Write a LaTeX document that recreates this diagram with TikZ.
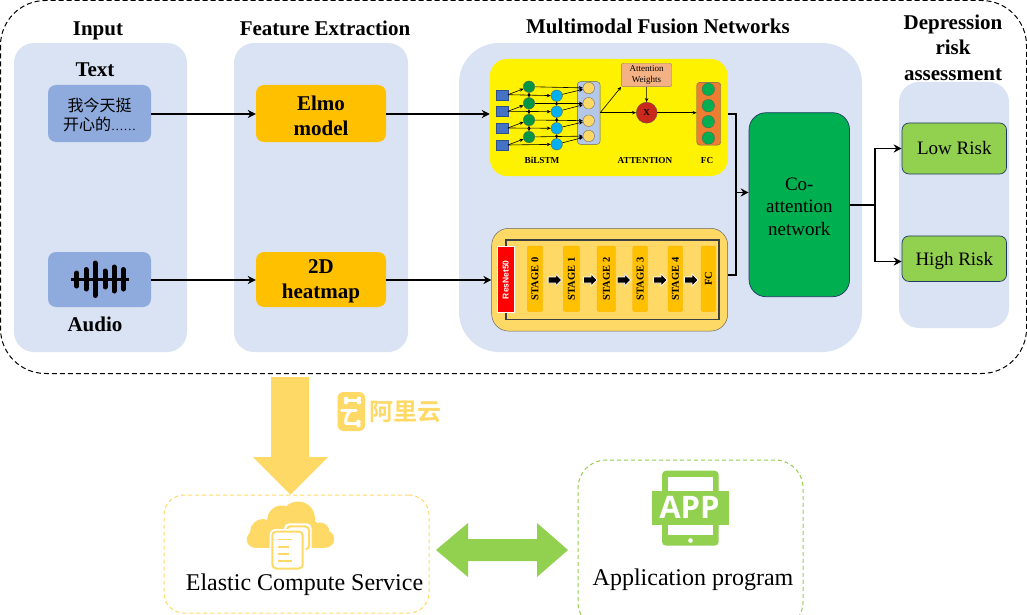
\documentclass[tikz,border=0pt]{standalone}
\usepackage{fontspec}
\setmainfont{Liberation Serif}
\setsansfont{Liberation Sans}
\newfontfamily\cjk{Noto Sans CJK SC}
\newfontfamily\cjkb{Noto Sans CJK SC Bold}
\newfontfamily\appfont{Open Sans}
\usetikzlibrary{arrows.meta,calc,positioning}
\definecolor{panelblue}{HTML}{DAE3F3}
\definecolor{boxblue}{HTML}{8FAADC}
\definecolor{amber}{HTML}{FFC000}
\definecolor{softyellow}{HTML}{FFD966}
\definecolor{leaf}{HTML}{92D050}
\definecolor{cogreen}{HTML}{00B050}
\definecolor{sq}{HTML}{4472C4}
\definecolor{cyanb}{HTML}{00B0F0}
\definecolor{peach}{HTML}{F4B183}
\definecolor{orangeb}{HTML}{ED7D31}
\definecolor{paneb}{HTML}{B4C7E7}
\definecolor{redx}{HTML}{C9281C}
\definecolor{navy}{HTML}{203864}
\newcommand{\lowered}[2]{\raisebox{-#1}[0pt][0pt]{\begin{tabular}{@{}c@{}}#2\end{tabular}}}
\tikzset{
 panel/.style={fill=panelblue,rounded corners=20pt},
 head/.style={font=\bfseries\fontsize{21}{25}\selectfont,align=center,inner sep=0pt},
 flow/.style={line width=1.9pt,-{Stealth[length=8pt,width=8pt]}},
 line2/.style={line width=1.9pt},
 big/.style={font=\bfseries\fontsize{21}{25}\selectfont,align=center},
 thin1/.style={line width=0.6pt,-{Stealth[length=4pt,width=3.5pt]}},
 bothway/.style={line width=.5pt,{Stealth[length=3pt,width=3pt]}-{Stealth[length=3pt,width=3pt]}},
 stagebox/.style={fill=amber,draw=amber!85!orange,line width=.4pt,rounded corners=2pt,minimum height=65.5pt,inner sep=0pt,text=black},
 tiny/.style={font=\bfseries\fontsize{9.2}{11}\selectfont},
 blockarrow/.style={fill=black,draw=white,line width=.7pt},
 riskbox/.style={fill=leaf,draw=navy,line width=.7pt,rounded corners=7pt,minimum width=104.5pt,inner sep=0pt,font=\fontsize{19}{22}\selectfont},
 dot/.style={circle,draw=gray!70!black,line width=.3pt,inner sep=0pt}
}
\begin{document}
\begin{tikzpicture}[x=1pt,y=-1pt]
\useasboundingbox (0,0) rectangle (1027,615);
\fill[white] (0,0) rectangle (1027,615);
% outer
\draw[line width=1pt,dash pattern=on 5pt off 3pt,rounded corners=45pt] (0.5,0.5) rectangle (1026.5,373.5);
% panels
\fill[panel] (14,43) rectangle (187,352);
\fill[panel] (234,43) rectangle (408,352);
\fill[panelblue,rounded corners=40pt] (459,43) rectangle (862,352);
\fill[panel] (899,82) rectangle (1009,328);
% heads
\node[head] at (98,31) {Input};
\node[head] at (325,28.5) {Feature Extraction};
\node[head] at (658,26) {Multimodal Fusion Networks};
\node[head,text width=110pt,font=\bfseries\fontsize{21}{25.5}\selectfont] at (953,47.5) {Depression risk assessment};
\node[head] at (95,69.5) {Text};
\node[head] at (95,324.5) {Audio};
% input boxes
\node[fill=boxblue,rounded corners=8pt,minimum width=103pt,minimum height=57pt,inner sep=0pt,font=\cjk\fontsize{16}{19.5}\selectfont] (txt) at (99.5,113.5) {\lowered{8pt}{我今天挺\\开心的{\rmfamily\fontsize{12.5}{14}\selectfont ……}}};
\node[fill=boxblue,rounded corners=8pt,minimum width=103pt,minimum height=55pt,inner sep=0pt] (aud) at (99.5,279.5) {};
\draw[line width=2.4pt] (71,279.3) -- (129,279.3);
\foreach \x/\a/\b in {76.7/273/286,86/269.5/289,95/263/295.5,105/271/287,114/267/291,123.3/269.5/289}
  \draw[line width=5pt,line cap=round] (\x,\a) -- (\x,\b);
% feature
\node[fill=amber,rounded corners=8pt,minimum width=130pt,minimum height=57pt,inner sep=0pt,big] (elmo) at (321,113.5) {\lowered{9.5pt}{Elmo\\model}};
\node[fill=amber,rounded corners=8pt,minimum width=130pt,minimum height=55pt,inner sep=0pt,big] (heat) at (321,279.5) {\lowered{7pt}{2D\\heatmap}};
% lstm
\node[fill=yellow,rounded corners=17pt,minimum width=237.7pt,minimum height=117pt,inner sep=0pt] (lstm) at (608.8,117.5) {};
\node[fill=paneb,draw=gray!80!black,line width=.4pt,rounded corners=3pt,minimum width=22.7pt,minimum height=62.6pt,inner sep=0pt] (pane) at (588.7,113) {};
\node[fill=orangeb,draw=gray!80!black,line width=.4pt,rounded corners=3pt,minimum width=24pt,minimum height=62.7pt,inner sep=0pt] (fcp) at (708.7,113.7) {};
\foreach \i/\ys/\yg/\yb/\yp/\yf in {1/94.7/86.7/95.7/88/89.3,2/111.3/103.3/111.7/103.3/105.7,3/128/120/128.3/120.7/121.7,4/145/137/144.3/136/138}{
  \node[fill=sq,draw=sq!70!black,line width=.3pt,minimum width=12pt,minimum height=10pt,inner sep=0pt] (s\i) at (501.7,\ys) {};
  \node[dot,fill=cogreen!85!black,minimum size=11.5pt] (g\i) at (529,\yg) {};
  \node[dot,fill=cyanb,minimum size=11.5pt] (b\i) at (556.7,\yb) {};
  \node[dot,fill=softyellow,minimum size=11.5pt] (p\i) at (588.7,\yp) {};
  \node[dot,fill=cogreen,minimum size=12.5pt] (f\i) at (708.3,\yf) {};
}
\foreach \i in {1,2,3,4}{
  \draw[thin1] (s\i.east) -- (g\i);
  \draw[thin1] (s\i.east) -- (b\i);
  \draw[thin1] (g\i) -- (p\i);
  \draw[thin1] (b\i) -- (p\i);
}
\foreach \i/\j in {1/2,2/3,3/4}{
  \draw[bothway] (g\i) -- (g\j);
  \draw[bothway] (b\i) -- (b\j);
}
\node[fill=peach,draw=gray!80!orange,line width=.4pt,rounded corners=2pt,minimum width=50.4pt,minimum height=23.4pt,inner sep=0pt,align=center,font=\fontsize{9}{11}\selectfont] (aw) at (646.5,75) {Attention\\Weights};
\node[circle,fill=redx,draw=gray!70!black,line width=.3pt,minimum size=21pt,inner sep=0pt,font=\bfseries\fontsize{9}{10}\selectfont] (xc) at (646.7,112.7) {X};
\coordinate (pout) at (pane.east|-xc);
\draw[thin1] (pout) -- (aw.south west);
\draw[thin1] (pout) -- (xc);
\draw[thin1] (aw) -- (xc);
\draw[thin1] (xc) -- (xc-|fcp.west);
\node[tiny] at (542,160.7) {BiLSTM};
\node[tiny] at (645,160.7) {ATTENTION};
\node[tiny] at (707,160.7) {FC};
% resnet
\node[fill=softyellow,draw=gray!80!black,line width=.5pt,rounded corners=17pt,minimum width=236pt,minimum height=102.7pt,inner sep=0pt] (res) at (609.7,279.7) {};
\draw[line width=1.2pt,draw=black!75] (506,240) rectangle (719,319.3);
\node[fill=red,draw=white,line width=.6pt,minimum width=16.3pt,minimum height=66pt,inner sep=0pt,text=white,font=\bfseries\sffamily\fontsize{8.5}{10}\selectfont] (rn) at (505.8,279.7) {\rotatebox{90}{ResNet50}};
\foreach \n/\a/\b/\t in {0/527.3/542.7/STAGE 0,1/563.3/579.7/STAGE 1,2/597/615.7/STAGE 2,3/632.7/647.7/STAGE 3,4/668/682.7/STAGE 4,5/701/715.7/FC}{
  \pgfmathsetmacro{\stw}{\b-\a}
  \pgfmathsetmacro{\stc}{(\a+\b)/2}
  \node[stagebox,minimum width=\stw pt] (st\n) at (\stc,278.8) {\rotatebox{90}{\bfseries\fontsize{10.5}{12}\selectfont \t}};
}
\foreach \x in {554.7,590,623.7,660,691}{
  \filldraw[blockarrow] (\x-6.5,277) -- (\x+1,277) -- (\x+1,274) -- (\x+7,280) -- (\x+1,286) -- (\x+1,283) -- (\x-6.5,283) -- cycle;
}
% coattention
\node[fill=cogreen,draw=navy,line width=.7pt,rounded corners=17pt,minimum width=100.5pt,minimum height=184pt,inner sep=0pt,font=\fontsize{19}{22.5}\selectfont] (co) at (799.3,204.7) {\lowered{7.8pt}{Co-\\attention\\network}};
% risk
\node[riskbox,minimum height=51pt] (low) at (954.3,148.5) {Low Risk};
\node[riskbox,minimum height=45.5pt] (high) at (954.3,258.7) {\raisebox{-6.5pt}[0pt][0pt]{High Risk}};
% connectors
\draw[flow] (txt.east|-0,114) -- (elmo.west|-0,114);
\draw[flow] (elmo.east|-0,114) -- (lstm.west|-0,114);
\draw[flow] (aud.east|-0,280) -- (heat.west|-0,280);
\draw[flow] (heat.east|-0,280) -- (res.west|-0,280);
\coordinate (j) at (736,192.5);
\draw[line2] (lstm.east|-0,114) -| (j);
\draw[line2] (res.east|-0,275) -| (j);
\draw[flow] (j) -- (j-|co.west);
\coordinate (k) at (875,204.7);
\draw[line2] (co.east|-k) -- (k);
\draw[flow] (k) |- (low.west);
\draw[flow] (k) |- (high.west|-0,261.5);
% big arrow
\fill[softyellow] (271,377) -- (309,377) -- (309,457) -- (328,457) -- (290.5,494.5) -- (253,457) -- (271,457) -- cycle;
% logo
\fill[softyellow,rounded corners=6pt] (337.5,392) rectangle (365,431);
\draw[white,line width=3pt,line cap=round] (347,400.5) -- (358,400.5) (341.5,410.5) -- (356,410.5) (346,423.5) -- (358,423.5);
\draw[white,line width=3pt,line cap=round] (350,411) .. controls (347,415) and (345,419) .. (346,423.5);
\fill[white] (346,398.8) circle (2.2pt) (346,402.2) circle (2.2pt) (359,398.8) circle (2.2pt) (359,402.2) circle (2.2pt) (358.5,421.8) circle (2.2pt) (358.5,425.2) circle (2.2pt);
\node[inner sep=0pt,text=softyellow,font=\cjkb\fontsize{24}{24}\selectfont] (ali) at (405,411.5) {阿里云};
% ecs
\node[draw=softyellow,line width=1pt,dash pattern=on 4pt off 3pt,rounded corners=20pt,minimum width=265pt,minimum height=118pt,inner sep=0pt] (ecs) at (296.5,554) {};
\fill[softyellow] (255,539.5) circle (8.3pt) (325.5,539) circle (8.7pt) (263,532) circle (13pt) (320,532) circle (9.5pt) (281.7,520) circle (14.5pt) (298,518.5) circle (17pt) (290,530) circle (18pt) (305,532) circle (15pt);
\fill[softyellow] (255,530) rectangle (325,547.8);
\fill[white,rounded corners=5pt] (284,523.3) rectangle (311.7,552);
\draw[softyellow,line width=2pt,rounded corners=4pt,fill=white] (286.7,526.3) rectangle (309,549.5);
\fill[white,rounded corners=6pt] (269.5,529) rectangle (305.5,571);
\draw[softyellow,line width=2pt,rounded corners=4pt,fill=white] (272.3,531.5) rectangle (302.7,568.5);
\foreach \y/\l in {539.3/291.7,546.7/289,554/289,561/291.7}
  \draw[softyellow,line width=1.6pt] (278.3,\y) -- (\l,\y);
\node[font=\fontsize{24}{28}\selectfont,inner sep=0pt] (ecst) at (304.5,584.5) {Elastic Compute Service};
% app
\node[draw=leaf,line width=1pt,dash pattern=on 4pt off 3pt,rounded corners=28pt,minimum width=225pt,minimum height=170pt,inner sep=0pt] (appb) at (690.5,545) {};
\fill[leaf,rounded corners=4pt] (662,470.7) rectangle (718.7,545.7);
\fill[white] (668.3,477.3) rectangle (712.7,535);
\fill[leaf] (652,490.7) rectangle (729,524.7);
\fill[white] (690.5,540.5) circle (2.3pt);
\node[text=white,inner sep=0pt,font=\appfont\bfseries\fontsize{31}{31}\selectfont] (apt) at (689.5,507.5) {APP};
\node[font=\fontsize{24}{28}\selectfont,inner sep=0pt] (appt) at (693,579.5) {Application program};
% double arrow
\fill[leaf] (436,550) -- (468,523) -- (468,539) -- (537,539) -- (537,523) -- (568,550) -- (537,577) -- (537,561) -- (468,561) -- (468,577) -- cycle;
\end{tikzpicture}
\end{document}
